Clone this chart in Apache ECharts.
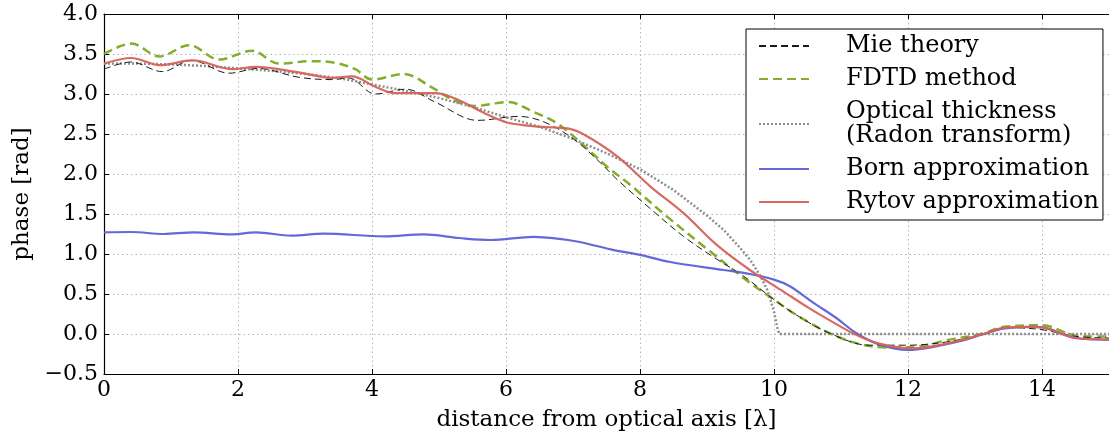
<!DOCTYPE html>
<html>
<head>
<meta charset="utf-8">
<script src="https://cdn.jsdelivr.net/npm/echarts@6/dist/echarts.min.js"></script>
<style>
  html, body { margin: 0; padding: 0; background: #fff; }
  #chart { width: 1109px; height: 441px; }
</style>
</head>
<body>
<div id="chart"></div>
<script>
// each curve at its turning points (x in wavelengths, phase in rad)
var mieX = [0, 0.4, 0.87, 1.3, 1.87, 2.3, 2.9, 3.4, 3.65, 4.05, 4.5, 4.94, 5.58, 6.18, 6.57, 7.02, 7.41, 7.66, 8.15, 8.65, 9.1, 9.55,
  10.0, 10.33, 10.83, 11.42, 12.0, 12.57, 13.09, 13.54, 14.03, 14.5, 15];
var mieValues = [3.31, 3.40, 3.28, 3.42, 3.26, 3.32, 3.21, 3.18, 3.20, 3.00, 3.06, 2.90, 2.67, 2.72, 2.65, 2.43, 2.14, 1.93, 1.57, 1.22, 0.96, 0.72,
  0.43, 0.24, 0.01, -0.14, -0.14, -0.10, -0.01, 0.08, 0.05, -0.03, -0.05];

var fdtdX = [0, 0.41, 0.83, 1.27, 1.72, 2.21, 2.61, 3.1, 3.45, 3.75, 4.0, 4.47, 4.9, 5.2, 5.53, 6.03, 6.4, 6.77, 7.17, 7.51, 7.86, 8.4, 9.05, 9.64,
  10.0, 10.33, 10.83, 11.3, 11.8, 12.2, 12.57, 13.09, 13.44, 14.0, 14.45, 14.7, 15];
var fdtdValues = [3.50, 3.63, 3.47, 3.61, 3.43, 3.54, 3.38, 3.41, 3.39, 3.31, 3.18, 3.25, 3.08, 2.93, 2.85, 2.90, 2.78, 2.63, 2.35, 2.09, 1.86, 1.47, 1.03, 0.64,
  0.43, 0.24, 0.01, -0.13, -0.17, -0.15, -0.08, 0.0, 0.09, 0.11, -0.01, -0.03, -0.03];

var opticalX = [0, 0.5, 1, 1.5, 2, 2.5, 3, 3.5, 4, 4.5, 5, 5.5, 6, 6.5, 7, 7.5, 8, 8.5, 9, 9.25, 9.5, 9.65, 9.8, 9.9, 9.95, 10.0, 10.05, 10.08, 15];
var opticalValues = [3.38, 3.38, 3.37, 3.35, 3.32, 3.29, 3.25, 3.20, 3.12, 3.04, 2.95, 2.84, 2.71, 2.59, 2.44, 2.26, 2.06, 1.80, 1.48, 1.30, 1.07, 0.92, 0.72, 0.55, 0.42, 0.28, 0.08, 0, 0];

var bornX = [0, 0.41, 0.89, 1.34, 1.9, 2.27, 2.8, 3.28, 4.18, 4.77, 5.3, 5.77, 6.41, 6.8, 7.1, 7.63, 8.0, 8.45, 9.25, 9.64, 10.0, 10.23, 10.59, 10.93,
  11.23, 11.57, 12.0, 12.32, 12.82, 13.09, 13.44, 13.83, 14.03, 14.5, 15];
var bornValues = [1.27, 1.275, 1.25, 1.27, 1.245, 1.27, 1.23, 1.255, 1.22, 1.245, 1.20, 1.175, 1.215, 1.19, 1.15, 1.045, 0.99, 0.90, 0.80, 0.75, 0.68, 0.60, 0.39, 0.20,
  0.01, -0.13, -0.20, -0.17, -0.08, -0.01, 0.07, 0.09, 0.08, -0.05, -0.07];

var rytovX = [0, 0.41, 0.83, 1.32, 1.92, 2.26, 2.91, 3.4, 3.7, 4.05, 4.34, 4.94, 5.29, 5.68, 6.03, 6.52, 6.92, 7.17, 7.66, 8.16, 8.65, 9.15, 9.64,
  10.14, 10.53, 10.73, 11.2, 11.57, 12.07, 12.57, 13.09, 13.44, 13.83, 14.03, 14.5, 15];
var rytovValues = [3.38, 3.45, 3.36, 3.42, 3.31, 3.34, 3.27, 3.20, 3.22, 3.09, 3.01, 3.01, 2.925, 2.76, 2.64, 2.59, 2.57, 2.49, 2.22, 1.84, 1.51, 1.11, 0.80,
  0.53, 0.32, 0.22, 0.0, -0.12, -0.18, -0.12, -0.01, 0.08, 0.09, 0.08, -0.05, -0.07];

var seriesNames = ["Mie theory", "FDTD method", "Optical thickness\n(Radon transform)", "Born approximation", "Rytov approximation"];

function pairs(xs, ys) {
  return xs.map(function (x, k) { return [x, ys[k]]; });
}

var font = "DejaVu Serif";
var gridLine = { show: true, lineStyle: { color: "#b4b4b4", type: [1.5, 3], width: 1 } };

var chart = echarts.init(document.getElementById("chart"));
var option = {
  backgroundColor: "#fff",
  animation: false,
  textStyle: { fontFamily: font, color: "#000" },
  grid: { left: 104, right: -5, top: 14, bottom: 67 },
  legend: {
    orient: "vertical",
    left: 746,
    top: 29,
    padding: [5, 4, 6, 12],
    itemGap: 9,
    itemWidth: 50,
    itemHeight: 14,
    backgroundColor: "#fff",
    borderColor: "#000",
    borderWidth: 1,
    borderRadius: 0,
    itemStyle: { opacity: 0 },
    textStyle: { fontFamily: font, fontSize: 24, color: "#000", lineHeight: 24, padding: [0, 0, 0, 32] },
    data: seriesNames
  },
  xAxis: [{
    type: "value",
    min: 0,
    max: 15,
    interval: 2,
    name: "distance from optical axis [λ]",
    nameLocation: "middle",
    nameGap: 35,
    nameTextStyle: { fontFamily: font, fontSize: 23, color: "#000" },
    axisLine: { onZero: false, lineStyle: { color: "#000", width: 1.2 } },
    axisTick: { inside: true, length: 5, lineStyle: { color: "#000" } },
    axisLabel: { fontFamily: font, fontSize: 22, color: "#000", margin: 5, showMaxLabel: false },
    splitLine: gridLine
  }, {
    type: "value",
    position: "top",
    min: 0,
    max: 15,
    interval: 2,
    axisLine: { show: true, onZero: false, lineStyle: { color: "#000", width: 1.2 } },
    axisTick: { show: true, inside: true, length: 5, lineStyle: { color: "#000" } },
    axisLabel: { show: false },
    splitLine: { show: false }
  }],
  yAxis: {
    type: "value",
    min: -0.5,
    max: 4,
    interval: 0.5,
    name: "phase [rad]",
    nameLocation: "middle",
    nameGap: 64,
    nameTextStyle: { fontFamily: font, fontSize: 23, color: "#000" },
    axisLine: { show: true, onZero: false, lineStyle: { color: "#000", width: 1.2 } },
    axisTick: { show: true, inside: true, length: 5, lineStyle: { color: "#000" } },
    axisLabel: {
      fontFamily: font, fontSize: 22, color: "#000", margin: 6,
      formatter: function (v) { return v.toFixed(1).replace("-", "\u2212"); }
    },
    splitLine: gridLine
  },
  series: [
    {
      name: seriesNames[0], type: "line", symbol: "none", smooth: 0.35,
      data: pairs(mieX, mieValues), z: 3,
      lineStyle: { color: "#1a1a1a", width: 1, type: [7, 4] },
      itemStyle: { color: "#1a1a1a" }
    },
    {
      name: seriesNames[1], type: "line", symbol: "none", smooth: 0.35,
      data: pairs(fdtdX, fdtdValues), z: 2,
      lineStyle: { color: "#84ad2c", width: 2.5, type: [9, 5] },
      itemStyle: { color: "#84ad2c" }
    },
    {
      name: seriesNames[2], type: "line", symbol: "none", smooth: false,
      data: pairs(opticalX, opticalValues), z: 2,
      lineStyle: { color: "#8e8e8e", width: 2.5, type: [2, 2] },
      itemStyle: { color: "#8e8e8e" }
    },
    {
      name: seriesNames[3], type: "line", symbol: "none", smooth: 0.35,
      data: pairs(bornX, bornValues), z: 4,
      lineStyle: { color: "#5c60d6", width: 2.2, opacity: 0.95 },
      itemStyle: { color: "#5c60d6" }
    },
    {
      name: seriesNames[4], type: "line", symbol: "none", smooth: 0.35,
      data: pairs(rytovX, rytovValues), z: 5,
      lineStyle: { color: "#d6625c", width: 2.2, opacity: 0.95 },
      itemStyle: { color: "#d6625c" }
    }
  ]
};
chart.setOption(option);
</script>
</body>
</html>
